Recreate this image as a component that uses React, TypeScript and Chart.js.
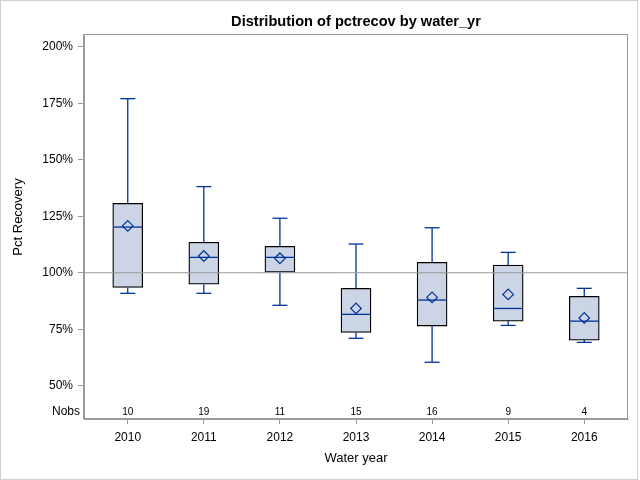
import React, { useEffect, useRef } from 'react';
import { Chart, registerables } from 'chart.js';

Chart.register(...registerables);

const YEARS = ['2010', '2011', '2012', '2013', '2014', '2015', '2016'];
const NOBS = [10, 19, 11, 15, 16, 9, 4];
const WHISKER_LOW = [90.9, 90.9, 85.6, 71.0, 60.4, 76.7, 69.2];
const Q1 = [93.5, 94.9, 100.2, 73.6, 76.4, 78.6, 70.2];
const MEDIAN = [120.2, 106.8, 106.8, 81.6, 87.9, 84.2, 78.6];
const MEAN = [120.7, 107.4, 106.4, 84.2, 89.1, 90.4, 80.0];
const Q3 = [130.7, 113.5, 111.7, 93.1, 104.6, 103.4, 89.6];
const WHISKER_HIGH = [177.0, 138.1, 124.1, 112.7, 119.9, 109.0, 93.1];
const Y_TICKS = [50, 75, 100, 125, 150, 175, 200];
const REFERENCE = 100;

const TITLE = 'Distribution of pctrecov by water_yr';
const Y_TITLE = 'Pct Recovery';
const X_TITLE = 'Water year';
const NOBS_LABEL = 'Nobs';

const FONT = '"Liberation Sans", Arial, Helvetica, sans-serif';
const BLUE = '#00349B';
const BOX_FILL = '#CBD5E5';
const FRAME = '#9a9a9a';
const X_MIN = -0.575;
const X_MAX = YEARS.length - 1 + 0.575;

export default function App() {
  const ref = useRef<HTMLCanvasElement | null>(null);

  useEffect(() => {
    document.body.style.margin = '0';
    const canvas = ref.current;
    if (!canvas) return;

    const decorPlugin = {
      id: 'decor',
      beforeDraw(chart: any) {
        const c = chart.ctx;
        c.save();
        c.fillStyle = '#ffffff';
        c.fillRect(0, 0, chart.width, chart.height);
        c.restore();
      },
      afterDraw(chart: any) {
        const c = chart.ctx;
        const a = chart.chartArea;
        const xs = chart.scales.x;
        c.save();
        // plot frame
        c.strokeStyle = FRAME;
        c.lineWidth = 1;
        c.strokeRect(Math.round(a.left) - 0.5, Math.round(a.top) + 0.5, Math.round(a.right - a.left), Math.round(a.bottom - a.top) - 1);
        // outer border
        c.strokeStyle = '#d0d0d0';
        c.strokeRect(0.5, 0.5, chart.width - 3, chart.height - 1);
        // y title
        c.fillStyle = '#000';
        c.font = `13px ${FONT}`;
        c.textAlign = 'center';
        c.textBaseline = 'middle';
        c.translate(18.5, 217);
        c.rotate(-Math.PI / 2);
        c.fillText(Y_TITLE, 0, 0);
        c.restore();

        c.save();
        c.fillStyle = '#000';
        c.textBaseline = 'middle';
        c.font = `12px ${FONT}`;
        c.textAlign = 'right';
        const ny = a.bottom - 7;
        c.fillText(NOBS_LABEL, a.left - 4, ny);
        c.font = `10px ${FONT}`;
        c.textAlign = 'center';
        NOBS.forEach((n, i) => {
          c.fillText(String(n), xs.getPixelForValue(i), ny);
        });
        c.restore();
      },
    };

    const whiskerData: any[] = [];
    YEARS.forEach((_, i) => {
      whiskerData.push({ x: i, y: Q3[i] }, { x: i, y: WHISKER_HIGH[i] }, { x: i, y: null });
      whiskerData.push({ x: i, y: Q1[i] }, { x: i, y: WHISKER_LOW[i] }, { x: i, y: null });
    });

    const chart = new Chart(canvas, {
      type: 'bar',
      data: {
        datasets: [
          {
            type: 'bar',
            label: 'box',
            data: YEARS.map((_, i) => ({ x: i, y: [Q1[i], Q3[i]] })) as any,
            backgroundColor: BOX_FILL,
            borderColor: '#000',
            borderWidth: 1.3,
            borderSkipped: false,
            barThickness: 30,
            order: 6,
          } as any,
          {
            type: 'line',
            label: 'whiskers',
            data: whiskerData,
            borderColor: BLUE,
            borderWidth: 1.3,
            pointRadius: 0,
            spanGaps: false,
            order: 5,
          } as any,
          {
            type: 'scatter',
            label: 'caps',
            data: YEARS.flatMap((_, i) => [{ x: i, y: WHISKER_HIGH[i] }, { x: i, y: WHISKER_LOW[i] }]),
            pointStyle: 'line',
            pointRadius: 7.5,
            pointBorderColor: BLUE,
            pointBorderWidth: 1.3,
            borderColor: BLUE,
            order: 4,
          } as any,
          {
            type: 'line',
            label: 'reference',
            data: [{ x: X_MIN, y: REFERENCE }, { x: X_MAX, y: REFERENCE }],
            borderColor: FRAME,
            borderWidth: 1,
            pointRadius: 0,
            order: 3,
          } as any,
          {
            type: 'scatter',
            label: 'median',
            data: YEARS.map((_, i) => ({ x: i, y: MEDIAN[i] })),
            pointStyle: 'line',
            pointRadius: 14.5,
            pointBorderColor: BLUE,
            pointBorderWidth: 1.3,
            borderColor: BLUE,
            order: 2,
          } as any,
          {
            type: 'scatter',
            label: 'mean',
            data: YEARS.map((_, i) => ({ x: i, y: MEAN[i] })),
            pointStyle: 'rectRot',
            pointRadius: 5.3,
            pointBorderColor: BLUE,
            pointBackgroundColor: 'rgba(0,0,0,0)',
            pointBorderWidth: 1.2,
            order: 1,
          } as any,
        ],
      },
      options: {
        animation: false,
        responsive: true,
        maintainAspectRatio: false,
        layout: { autoPadding: false, padding: { left: 0, right: 12, top: 0, bottom: 0 } },
        plugins: {
          legend: { display: false },
          tooltip: { enabled: false },
          title: {
            display: true,
            fullSize: false,
            text: TITLE,
            color: '#000',
            font: { family: FONT, size: 14.6, weight: 'bold', lineHeight: 1.2 },
            padding: { top: 13.5, bottom: 3 },
          },
        },
        scales: {
          x: {
            type: 'linear',
            min: X_MIN,
            max: X_MAX,
            offset: false,
            afterBuildTicks: (s: any) => {
              s.ticks = YEARS.map((_, i) => ({ value: i }));
            },
            afterFit: (s: any) => {
              s.height = 61;
              s.paddingLeft = 0;
              s.paddingRight = 0;
            },
            ticks: {
              callback: (v: any) => YEARS[v as number] ?? '',
              color: '#000',
              font: { family: FONT, size: 12 },
              padding: 6,
              maxRotation: 0,
            },
            grid: { offset: false, drawOnChartArea: false, drawTicks: true, tickLength: 5, color: FRAME },
            border: { display: true, color: FRAME },
            title: {
              display: true,
              text: X_TITLE,
              color: '#000',
              font: { family: FONT, size: 13 },
              padding: { top: 0, bottom: 14 },
            },
          },
          y: {
            type: 'linear',
            min: 35.3,
            max: 205.6,
            afterBuildTicks: (s: any) => {
              s.ticks = Y_TICKS.map((v) => ({ value: v }));
            },
            afterFit: (s: any) => {
              s.width = 84;
            },
            ticks: {
              callback: (v: any) => `${v}%`,
              color: '#000',
              font: { family: FONT, size: 12 },
              padding: 5,
            },
            grid: { drawOnChartArea: false, drawTicks: true, tickLength: 6, color: FRAME },
            border: { display: true, color: FRAME },
          },
        },
      } as any,
      plugins: [decorPlugin],
    });

    return () => chart.destroy();
  }, []);

  return (
    <div style={{ width: 640, height: 480, position: 'relative' }}>
      <canvas ref={ref} />
    </div>
  );
}
